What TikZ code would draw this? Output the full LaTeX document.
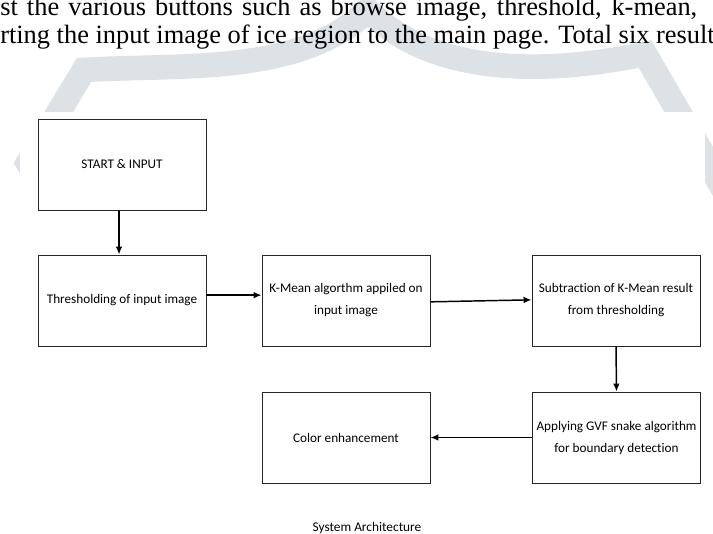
\documentclass[tikz,border=0pt]{standalone}
\usepackage{fontspec}
\setmainfont{Liberation Serif}
\newfontfamily\boxfont[Ligatures=NoCommon]{Carlito}
\usetikzlibrary{arrows.meta}
\definecolor{markgray}{RGB}{220,226,230}
\begin{document}
\begin{tikzpicture}[x=0.75pt,y=-0.75pt,
    stage/.style={draw=black!85,line width=0.7pt,minimum width=126pt,minimum height=68.25pt,
        align=center,inner sep=2pt,font=\boxfont\fontsize{9.9}{16.5}\selectfont},
    page/.style={anchor=base west,inner sep=0pt,font=\fontsize{19.8}{22}\selectfont},
    flow/.style={line width=1.1pt,-{Latex[length=6pt,width=5pt]}}]
    \useasboundingbox (0,0) rectangle (713,533);
    \clip (0,0) rectangle (713,533);
    % watermark behind the page
    \draw[markgray,line width=18.5pt,line join=miter]
        (60,215) -- (28,163) -- (84,70)
        .. controls (180,64) and (300,76) .. (368,10)
        .. controls (430,74) and (540,76) .. (645,54) -- (770,270);
    \fill[white] (20,112) rectangle (705,533);
    % text of the page
    \node[page] (line1) at (0,15)
        {\makebox[522.75pt][s]{st the various buttons such as browse image, threshold, k-mean,}};
    \node[page] (line2) at (0,43)
        {rting the input image of ice region to the main page. Total six result};
    % stages
    \node[stage] (start) at (122,164.5) {START \& INPUT};
    \node[stage] (thr) at (122,300.5) {Thresholding of input image};
    \node[stage] (kmean) at (346,300.5) {K-Mean algorthm appiled on\\input image};
    \node[stage] (sub) at (616,300.5) {Subtraction of K-Mean result\\from thresholding};
    \node[stage] (gvf) at (616.5,437.5) {Applying GVF snake algorithm\\for boundary detection};
    \node[stage] (color) at (346,437.5) {Color enhancement};
    \node[font=\boxfont\fontsize{10}{12}\selectfont,anchor=base] (caption) at (367,531) {System Architecture};
    % arrows
    \draw[flow] ([xshift=-2.25pt]start.south) -- ([xshift=-2.25pt]thr.north);
    \draw[flow] ([yshift=4pt]thr.east) -- ([yshift=4pt]kmean.west);
    \draw[flow] ([yshift=-1pt]kmean.east) -- ([yshift=0.5pt]sub.west);
    \draw[flow] (sub.south) -- (gvf.north);
    \draw[flow] (gvf.west) -- (color.east);
\end{tikzpicture}
\end{document}
